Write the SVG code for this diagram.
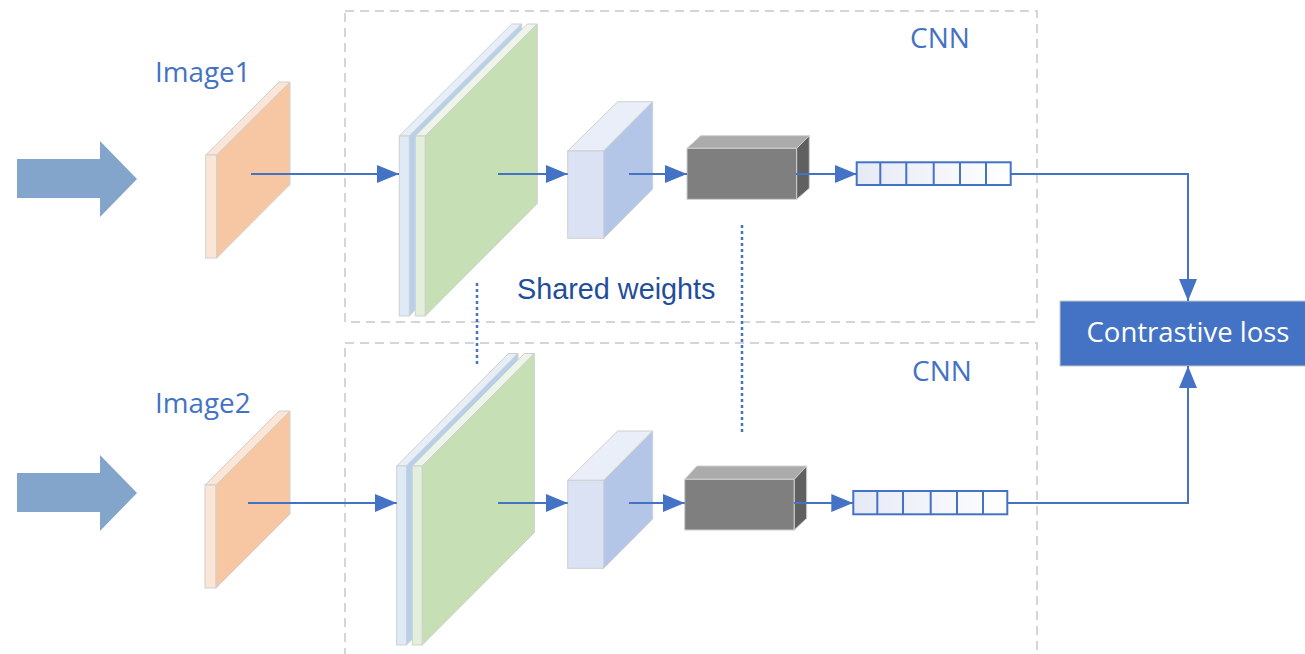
<svg xmlns="http://www.w3.org/2000/svg" width="1305" height="654" viewBox="0 0 1305 654">
<style>
.lbl{font-family:"Open Sans","Noto Sans",sans-serif;fill:#4472C4}
.dash{fill:none;stroke:#C8C8C8;stroke-width:1.5;stroke-dasharray:9,6}
.edge{stroke:#D0D0D0;stroke-width:1}
.conn{fill:none;stroke:#4472C4;stroke-width:2}
.dot{fill:none;stroke:#4472C4;stroke-width:2.5;stroke-dasharray:3,3}
.vec{stroke:#4472C4;stroke-width:2}
.big{fill:#84A5CB}
</style>
<defs>
<marker id="ah" markerUnits="userSpaceOnUse" markerWidth="22" markerHeight="18" viewBox="0 0 22 18" refX="22" refY="9" orient="auto">
<path d="M0,0 L22,9 L0,18 Z" fill="#4472C4"/>
</marker>
<linearGradient id="vg" x1="0" y1="0" x2="1" y2="0">
<stop offset="0" stop-color="#E6EAF6"/>
<stop offset="1" stop-color="#FFFFFF"/>
</linearGradient>
</defs>

<rect class="dash" x="345" y="11" width="692" height="311"/>
<rect class="dash" x="345" y="343" width="692" height="320"/>

<g id="input-arrow-1"><path class="big" d="M17,159 H100 V141 L137,179 L100,217 V198 H17 Z"/></g>
<g id="input-arrow-2"><path class="big" d="M17,473 H100 V455 L137,493 L100,531 V512 H17 Z"/></g>

<g id="image1">
<text class="lbl" x="155" y="82" font-size="27.8">Image1</text>
<polygon class="edge" points="205.7,155 216.7,155 290,82 279,82" fill="#FBE5D6"/>
<rect class="edge" x="205.7" y="155" width="11" height="103" fill="#FBE5D6"/>
<polygon class="edge" points="216.7,155 290,82 290,184.5 216.7,258" fill="#F6C7A2"/>
</g>
<g id="image2">
<text class="lbl" x="155" y="413" font-size="27.8">Image2</text>
<polygon class="edge" points="205,485 216,485 290,411 279,411" fill="#FBE5D6"/>
<rect class="edge" x="205" y="485" width="11" height="103" fill="#FBE5D6"/>
<polygon class="edge" points="216,485 290,411 290,514 216,588" fill="#F6C7A2"/>
</g>

<g id="conv1">
<polygon class="edge" points="399.3,136 409.3,136 521.7,24 511.7,24" fill="#E6EEF8"/>
<polygon class="edge" points="409.3,136 521.7,24 521.7,204 409.3,316" fill="#B6D0EC"/>
<rect class="edge" x="399.3" y="136" width="10" height="180" fill="#DEEAF6"/>
<polygon class="edge" points="415.3,136 425.3,136 537.3,24 527.3,24" fill="#EDF4E8"/>
<rect class="edge" x="415.3" y="136" width="10" height="180" fill="#E3EFDB"/>
<polygon class="edge" points="425.3,136 537.3,24 537.3,203.5 425.3,316" fill="#C6DFB5"/>
</g>
<g id="conv2">
<polygon class="edge" points="396.7,466 406.5,466 518,353.5 508.5,353.5" fill="#E6EEF8"/>
<polygon class="edge" points="406.5,466 518,353.5 518,533 406.5,645" fill="#B6D0EC"/>
<rect class="edge" x="396.7" y="466" width="9.8" height="179" fill="#DEEAF6"/>
<polygon class="edge" points="412.3,466 422.3,466 534.3,353.5 524.3,353.5" fill="#EDF4E8"/>
<rect class="edge" x="412.3" y="466" width="10" height="179" fill="#E3EFDB"/>
<polygon class="edge" points="422.3,466 534.3,353.5 534.3,532.7 422.3,645" fill="#C6DFB5"/>
</g>

<g id="pool1">
<polygon class="edge" points="567.7,151 603.7,151 652.7,101.7 617.7,101.7" fill="#E9EEF8"/>
<rect class="edge" x="567.7" y="151" width="36" height="87.3" fill="#DAE2F3"/>
<polygon class="edge" points="603.7,151 652.7,101.7 652.7,189 603.7,238.3" fill="#B4C6E7"/>
</g>
<g id="pool2">
<polygon class="edge" points="567.7,480.3 603.7,480.3 652.7,431 617.7,431" fill="#E9EEF8"/>
<rect class="edge" x="567.7" y="480.3" width="36" height="88" fill="#DAE2F3"/>
<polygon class="edge" points="603.7,480.3 652.7,431 652.7,519 603.7,568.3" fill="#B4C6E7"/>
</g>

<g id="fc1">
<polygon class="edge" points="687,148.3 796.7,148.3 809.3,135.7 700.7,135.7" fill="#ABABAB"/>
<rect class="edge" x="687" y="148.3" width="109.7" height="51" fill="#7F7F7F"/>
<polygon class="edge" points="796.7,148.3 809.3,135.7 809.3,188.3 796.7,199.3" fill="#606060"/>
</g>
<g id="fc2">
<polygon class="edge" points="684.7,479.3 794.3,479.3 806.7,466 697,466" fill="#ABABAB"/>
<rect class="edge" x="684.7" y="479.3" width="109.6" height="50.7" fill="#7F7F7F"/>
<polygon class="edge" points="794.3,479.3 806.7,466 806.7,518.3 794.3,530" fill="#606060"/>
</g>

<g id="vector1">
<rect class="vec" x="856.7" y="162.3" width="154" height="22.7" fill="url(#vg)"/>
<path class="vec" d="M880.3,162.3V185M906.3,162.3V185M933.7,162.3V185M960,162.3V185M986,162.3V185"/>
</g>
<g id="vector2">
<rect class="vec" x="853.3" y="491" width="154" height="23.3" fill="url(#vg)"/>
<path class="vec" d="M877.3,491V514.3M903,491V514.3M930.7,491V514.3M957,491V514.3M983,491V514.3"/>
</g>

<g id="loss">
<rect x="1060" y="301" width="250" height="65" fill="#4472C4" stroke="#C8C8C8" stroke-width="1"/>
<text x="1188" y="342" font-family="'Open Sans','Noto Sans',sans-serif" font-size="27.5" fill="#FFFFFF" text-anchor="middle">Contrastive loss</text>
</g>

<g id="labels">
<text class="lbl" x="910" y="48" font-size="28">CNN</text>
<text class="lbl" x="912" y="381" font-size="28">CNN</text>
<text x="517" y="299" font-family="'Liberation Sans',Arial,sans-serif" font-size="28.8" fill="#1F4E9A">Shared weights</text>
</g>

<g id="connectors">
<path class="conn" d="M251,174H399" marker-end="url(#ah)"/>
<path class="conn" d="M498,174H567.7" marker-end="url(#ah)"/>
<path class="conn" d="M629,174H687" marker-end="url(#ah)"/>
<path class="conn" d="M796,174H856.7" marker-end="url(#ah)"/>
<path class="conn" d="M1010.7,174H1188V301" marker-end="url(#ah)"/>
<path class="conn" d="M248,503H396.7" marker-end="url(#ah)"/>
<path class="conn" d="M498,503H567.7" marker-end="url(#ah)"/>
<path class="conn" d="M629,503H684.7" marker-end="url(#ah)"/>
<path class="conn" d="M794,503H853.3" marker-end="url(#ah)"/>
<path class="conn" d="M1007.3,503H1188V366" marker-end="url(#ah)"/>
<path class="dot" d="M477,283V367"/>
<path class="dot" d="M742,225V432"/>
</g>
</svg>
